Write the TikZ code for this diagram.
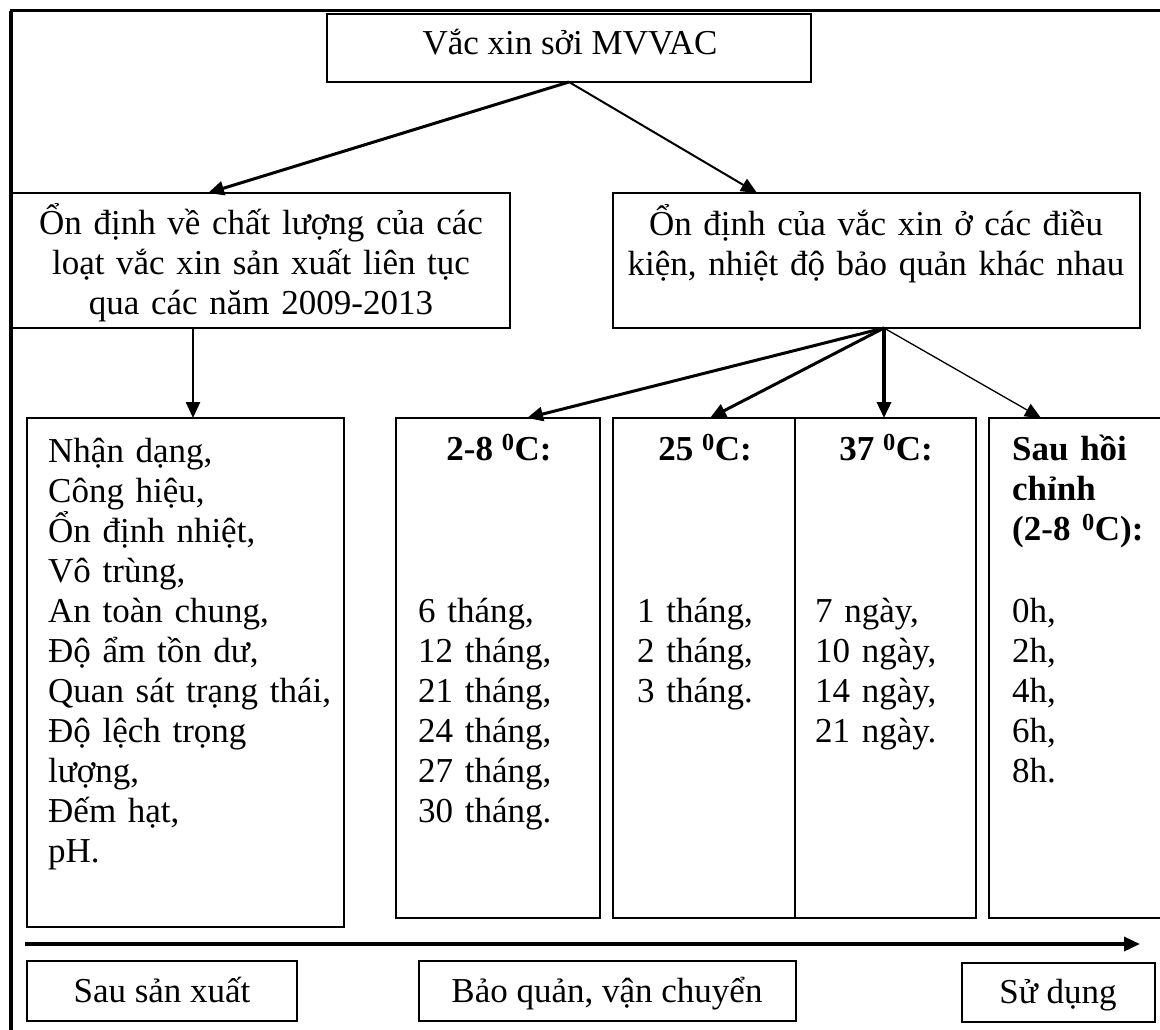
\documentclass[tikz,border=0pt]{standalone}
\usepackage{fontspec}
\setmainfont{Liberation Serif}
\usetikzlibrary{arrows.meta}

\begin{document}
\begin{tikzpicture}[x=1pt,y=-1pt,
    box/.style={draw,line width=2.2pt,inner sep=0pt,outer sep=0pt,anchor=north west},
    txt/.style={font=\fontsize{35}{40}\selectfont,inner sep=0pt,anchor=base},
    lst/.style={font=\fontsize{35}{40}\selectfont,inner sep=0pt,anchor=base west,align=left,text width=300pt},
    hd/.style={txt,font=\fontsize{35}{40}\selectfont\bfseries},
    arr/.style={-{Triangle[length=16pt,width=14pt]},line width=2.5pt}]
  \useasboundingbox (0,0) rectangle (1160,1030);
  % outer frame
  \draw[line width=3pt] (10,11) -- (1160,11);
  \draw[line width=3.5pt] (11,11) -- (11,1030);
  % boxes
  \node[box,minimum width=484pt,minimum height=68pt] (vac) at (327,14) {};
  \node[box,minimum width=499pt,minimum height=135pt] (lq) at (11,193) {};
  \node[box,minimum width=527pt,minimum height=135pt] (rq) at (613,193) {};
  \node[box,minimum width=317pt,minimum height=509pt] (chk) at (27,418) {};
  \node[box,minimum width=204pt,minimum height=500pt] (t28) at (396,418) {};
  \node[box,minimum width=182pt,minimum height=500pt] (t25) at (613,418) {};
  \node[box,minimum width=181pt,minimum height=500pt] (t37) at (795,418) {};
  \node[box,minimum width=180pt,minimum height=500pt] (hc) at (989,418) {};
  \node[box,minimum width=270pt,minimum height=60pt] (sx) at (27,961) {};
  \node[box,minimum width=377pt,minimum height=60pt] (bq) at (419,961) {};
  \node[box,minimum width=193pt,minimum height=59pt] (sd) at (962,963) {};
  % texts
  \node[txt] (vact) at (570,55) {Vắc xin sởi MVVAC};
  \node[txt,align=center,text width=490pt] (lqt) at (261,234) {Ổn định về chất lượng của các\\loạt vắc xin sản xuất liên tục\\qua các năm 2009-2013};
  \node[txt,align=center,text width=520pt] (rqt) at (876,235) {Ổn định của vắc xin ở các điều\\kiện, nhiệt độ bảo quản khác nhau};
  \node[lst] (chkt) at (48,462) {Nhận dạng,\\Công hiệu,\\Ổn định nhiệt,\\Vô trùng,\\An toàn chung,\\Độ ẩm tồn dư,\\Quan sát trạng thái,\\Độ lệch trọng\\lượng,\\Đếm hạt,\\pH.};
  \node[hd] (t28h) at (499,460) {2-8 \textsuperscript{0}C:};
  \node[lst] (t28t) at (418,622) {6 tháng,\\12 tháng,\\21 tháng,\\24 tháng,\\27 tháng,\\30 tháng.};
  \node[hd] (t25h) at (705,460) {25 \textsuperscript{0}C:};
  \node[lst] (t25t) at (637,622) {1 tháng,\\2 tháng,\\3 tháng.};
  \node[hd] (t37h) at (886,460) {37 \textsuperscript{0}C:};
  \node[lst] (t37t) at (815,622) {7 ngày,\\10 ngày,\\14 ngày,\\21 ngày.};
  \node[lst,font=\fontsize{35}{40}\selectfont\bfseries] (hch) at (1012,460) {Sau hồi\\chỉnh\\(2-8 \textsuperscript{0}C):};
  \node[lst] (hct) at (1012,622) {0h,\\2h,\\4h,\\6h,\\8h.};
  \node[txt] (sxt) at (162,1002) {Sau sản xuất};
  \node[txt] (bqt) at (607,1002) {Bảo quản, vận chuyển};
  \node[txt] (sdt) at (1058,1003) {Sử dụng};
  % connectors
  \draw[arr,line width=3pt] (vac.south) -- ([xshift=197pt]lq.north west);
  \draw[arr,line width=2pt] (vac.south) -- ([xshift=144pt]rq.north west);
  \draw[arr,line width=2.5pt] ([xshift=182pt]lq.south west) -- ([xshift=166pt]chk.north west);
  \coordinate (fan) at ([xshift=271pt]rq.south west);
  \draw[arr,line width=3pt] (fan) -- ([xshift=131pt]t28.north west);
  \draw[arr,line width=3pt] (fan) -- ([xshift=97pt]t25.north west);
  \draw[arr,line width=3.5pt] (fan) -- ([xshift=89pt]t37.north west);
  \draw[arr,line width=1.3pt] (fan) -- ([xshift=52pt]hc.north west);
  % time line
  \coordinate (tl0) at (25,944);
  \coordinate (tl1) at (1140,944);
  \draw[arr,line width=3.5pt] (tl0) -- (tl1);
\end{tikzpicture}
\end{document}
